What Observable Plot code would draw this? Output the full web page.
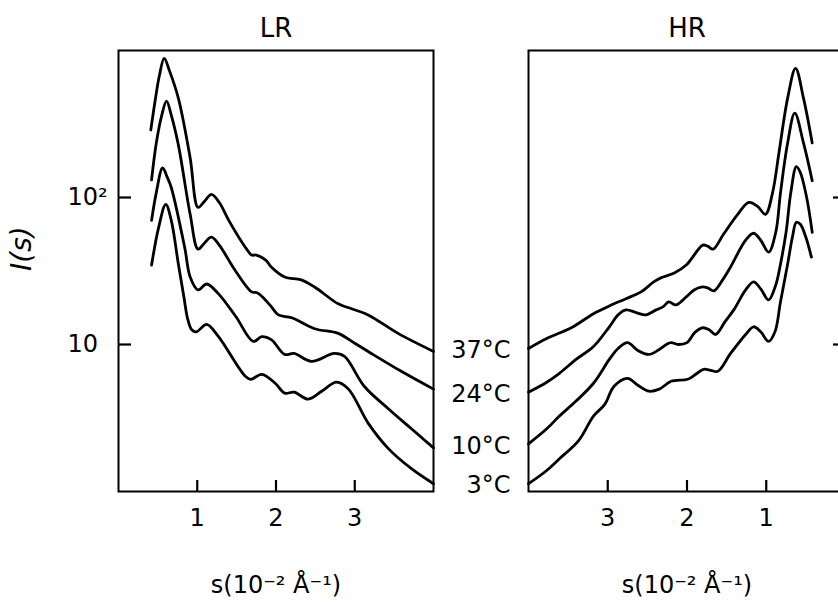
<!DOCTYPE html>
<html><head><meta charset="utf-8">
<script src="https://cdn.jsdelivr.net/npm/d3@7"></script>
<script src="https://cdn.jsdelivr.net/npm/@observablehq/plot@0.6"></script>
<style>
html,body{margin:0;padding:0;background:#fff;overflow:hidden;}
#wrap{position:relative;width:838px;height:602px;overflow:hidden;background:#fff;}
#lr,#hr{position:absolute;top:0;height:602px;}
#lr{left:0;width:445px;} #hr{left:440px;width:415px;}
#wrap svg{max-width:none !important;}
</style></head><body>
<div id="wrap"><div id="lr"></div><div id="hr"></div></div>
<script>
// ---- data (s in 10^-2 Å^-1, I(s) arbitrary units) ----
const temps = ["37°C", "24°C", "10°C", "3°C"];
const xTicks = [1, 2, 3];
const yTicks = [10, 100];
const yTickLabels = ["10", "10²"];
const xLabel = "s(10⁻² Å⁻¹)";
const yLabel = "I(s)";
const panelTitles = ["LR", "HR"];

// LR panel
const lr37_s = [0.41,0.47,0.52,0.58,0.65,0.76,0.91,1.01,1.09,1.18,1.28,1.40,1.61,1.69,1.75,1.87,1.94,2.11,2.32,2.49,2.79,2.96,3.17,3.55,4.0];
const lr37_I = [288,474,678,883,721,474,186,85.6,94,105,92.5,69.9,45.9,40.6,40.6,37.5,33.7,28.8,27.5,24.6,18.9,17.5,15.9,11.9,8.97];
const lr24_s = [0.42,0.48,0.55,0.61,0.67,0.76,0.91,1.01,1.09,1.18,1.28,1.40,1.47,1.69,1.76,1.85,1.94,2.03,2.20,2.49,2.79,3.00,3.21,3.59,4.0];
const lr24_I = [132,235,364,452,364,228,76.8,44.5,48.9,53.7,47.4,37.5,32.6,22.8,22.5,20.5,18.1,15.9,15.2,12.8,11.9,10.2,8.69,6.57,4.97];
const lr10_s = [0.42,0.48,0.56,0.62,0.67,0.84,0.91,1.01,1.12,1.27,1.49,1.71,1.82,1.94,2.11,2.23,2.45,2.74,2.87,3.12,3.43,3.72,4.0];
const lr10_I = [69.9,108,159,137,117,45.9,28.8,23.5,25.8,22.1,15.5,10.5,11.3,10.8,8.56,8.69,7.68,8.69,8.29,5.20,3.64,2.67,1.98];
const lr3_s = [0.42,0.51,0.60,0.67,0.76,0.83,0.88,0.93,0.99,1.12,1.27,1.61,1.68,1.82,1.99,2.11,2.23,2.41,2.58,2.77,2.92,3.17,3.43,3.72,4.0];
const lr3_I = [34.7,62.7,89.7,69.9,35.3,21.1,14.8,12.6,12.2,13.7,11.3,6.08,5.80,6.27,5.45,4.67,4.74,4.25,4.81,5.54,4.97,2.92,1.95,1.43,1.13];

// HR panel
const hr37_s = [4.0,3.77,3.46,3.18,2.98,2.77,2.58,2.42,2.33,2.16,2.01,1.80,1.74,1.67,1.54,1.36,1.22,1.11,1.01,0.92,0.84,0.73,0.63,0.53,0.42];
const hr37_I = [9.40,11.0,13.0,16.2,18.3,20.5,22.8,26.7,28.4,30.6,34.7,47.4,46.7,44.5,56.2,76.8,92.5,87.0,76.8,108,201,474,756,474,235];
const hr24_s = [4.0,3.77,3.61,3.40,3.18,2.98,2.87,2.77,2.64,2.52,2.39,2.30,2.23,2.14,2.01,1.91,1.82,1.74,1.66,1.55,1.45,1.26,1.16,1.07,0.97,0.88,0.82,0.73,0.64,0.53,0.42];
const hr24_I = [4.74,5.54,6.37,7.92,9.69,13.2,15.9,17.2,16.5,15.9,17.2,18.1,19.5,18.6,21.1,23.5,24.6,24.3,23.2,27.5,33.7,51.2,57.1,51.2,42.5,58.0,108,235,375,235,130];
const hr10_s = [4.0,3.77,3.61,3.40,3.18,2.98,2.87,2.75,2.62,2.48,2.35,2.26,2.20,2.11,2.0,1.90,1.80,1.72,1.64,1.52,1.41,1.26,1.16,1.07,0.97,0.88,0.82,0.75,0.69,0.62,0.57,0.49,0.42];
const hr10_I = [2.11,2.67,3.26,4.12,5.45,7.92,9.40,10.3,9.11,8.56,9.25,10.0,10.3,10.0,10.3,12.1,13.0,12.6,11.7,14.3,17.2,23.5,26.7,23.9,20.1,25.4,35.3,58.0,108,162,148,100,58.0];
const hr3_s = [4.0,3.77,3.61,3.37,3.18,3.04,2.92,2.75,2.62,2.48,2.35,2.20,1.99,1.89,1.79,1.70,1.61,1.45,1.26,1.16,1.07,0.97,0.89,0.82,0.73,0.67,0.62,0.57,0.50,0.43];
const hr3_I = [1.13,1.39,1.67,2.21,3.26,3.9,5.20,5.89,5.28,4.81,4.97,5.62,5.80,6.27,6.78,6.67,6.57,8.69,11.7,13.2,12.2,10.5,12.2,19.5,35.3,53.7,67.8,65.7,53.7,39.3];

// ---- build tables ----
const rows = (s, I, t) => s.map((v, i) => ({s: v, I: I[i], t}));
const lrData = [
  ...rows(lr37_s, lr37_I, temps[0]), ...rows(lr24_s, lr24_I, temps[1]),
  ...rows(lr10_s, lr10_I, temps[2]), ...rows(lr3_s, lr3_I, temps[3])
];
const hrData = [
  ...rows(hr37_s, hr37_I, temps[0]), ...rows(hr24_s, hr24_I, temps[1]),
  ...rows(hr10_s, hr10_I, temps[2]), ...rows(hr3_s, hr3_I, temps[3])
];
const hrEnds = [
  {t: temps[0], I: hr37_I[0]}, {t: temps[1], I: hr24_I[0]},
  {t: temps[2], I: hr10_I[0]}, {t: temps[3], I: hr3_I[0]}
];

const font = "'DejaVu Sans', 'Open Sans', sans-serif";
const FS = 24;
const common = {
  height: 602, marginTop: 50, marginBottom: 111,
  style: {fontFamily: font, fontSize: FS + "px", color: "#000", background: "#fff", overflow: "visible", maxWidth: "none"},
  y: {type: "log", domain: [1, 1000], axis: null},
};

const left = Plot.plot({
  ...common,
  width: 445, marginLeft: 118, marginRight: 12,
  x: {domain: [0, 4], axis: null},
  marks: [
    Plot.frame({stroke: "#000", strokeWidth: 2}),
    Plot.ruleX(xTicks, {x: d => d, insetTop: 430, stroke: "#000", strokeWidth: 2.2}),
    Plot.ruleY(yTicks, {y: d => d, insetRight: 302, stroke: "#000", strokeWidth: 2.2}),
    Plot.text(xTicks, {x: d => d, text: d => String(d), frameAnchor: "bottom", lineAnchor: "middle", dy: 27, fontSize: FS}),
    Plot.text(yTicks, {y: d => d, text: (d, i) => yTickLabels[i], frameAnchor: "left", textAnchor: "start", lineAnchor: "middle", dx: -51, fontSize: FS}),
    Plot.line(lrData, {x: "s", y: "I", z: "t", stroke: "#000", strokeWidth: 2.8, curve: "catmull-rom"}),
    Plot.text([panelTitles[0]], {text: d => d, frameAnchor: "top", lineAnchor: "middle", dy: -22, fontSize: 26}),
    Plot.text([xLabel], {text: d => d, frameAnchor: "bottom", lineAnchor: "middle", dy: 94, fontSize: FS}),
    Plot.text([yLabel], {text: d => d, frameAnchor: "left", lineAnchor: "middle", dx: -96, rotate: -90, fontSize: 28, fontStyle: "italic"})
  ]
});

const right = Plot.plot({
  ...common,
  width: 415, marginLeft: 88, marginRight: 10,
  x: {domain: [0, 4], reverse: true, axis: null},
  marks: [
    Plot.frame({stroke: "#000", strokeWidth: 2}),
    Plot.ruleX(xTicks, {x: d => d, insetTop: 430, stroke: "#000", strokeWidth: 2.2}),
    Plot.ruleY(yTicks, {y: d => d, insetLeft: 305, stroke: "#000", strokeWidth: 2.2}),
    Plot.text(xTicks, {x: d => d, text: d => String(d), frameAnchor: "bottom", lineAnchor: "middle", dy: 27, fontSize: FS}),
    Plot.line(hrData, {x: "s", y: "I", z: "t", stroke: "#000", strokeWidth: 2.8, curve: "catmull-rom"}),
    Plot.text(hrEnds, {y: "I", text: "t", frameAnchor: "left", textAnchor: "end", lineAnchor: "middle", dx: -18, dy: 2, fontSize: FS}),
    Plot.text([panelTitles[1]], {text: d => d, frameAnchor: "top", lineAnchor: "middle", dy: -22, fontSize: 26}),
    Plot.text([xLabel], {text: d => d, frameAnchor: "bottom", lineAnchor: "middle", dy: 94, fontSize: FS})
  ]
});

document.getElementById("lr").appendChild(left);
document.getElementById("hr").appendChild(right);
</script>
</body></html>
